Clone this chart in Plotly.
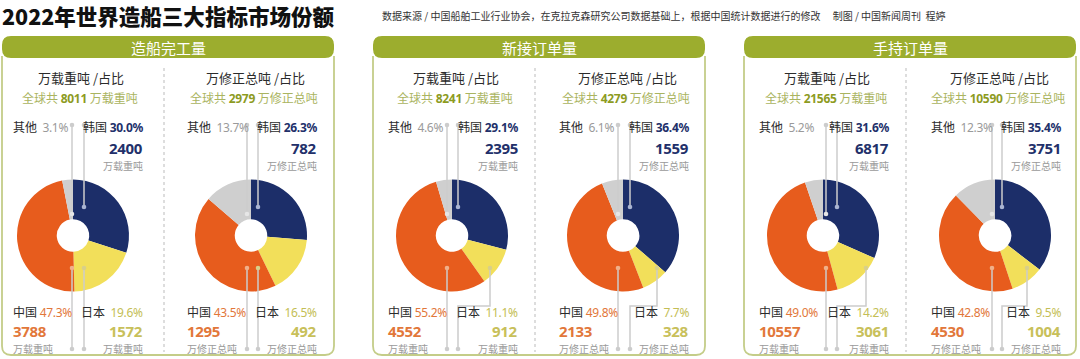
import plotly.graph_objects as go

# ---------------- data ----------------
panel_titles = ["造船完工量", "新接订单量", "手持订单量"]
units = ["万载重吨", "万修正总吨"]
totals = [8011, 2979, 8241, 4279, 21565, 10590]
korea_pct = [30.0, 26.3, 29.1, 36.4, 31.6, 35.4]
japan_pct = [19.6, 16.5, 11.1, 7.7, 14.2, 9.5]
china_pct = [47.3, 43.5, 55.2, 49.8, 49.0, 42.8]
other_pct = [3.1, 13.7, 4.6, 6.1, 5.2, 12.3]
korea_val = [2400, 782, 2395, 1559, 6817, 3751]
japan_val = [1572, 492, 912, 328, 3061, 1004]
china_val = [3788, 1295, 4552, 2133, 10557, 4530]
countries = ["韩国", "日本", "中国", "其他"]

title = "2022年世界造船三大指标市场份额"
source = "数据来源 / 中国船舶工业行业协会，在克拉克森研究公司数据基础上，根据中国统计数据进行的修改　 制图 / 中国新闻周刊  程婷"

# ---------------- style / layout ----------------
W, H = 1080, 359
CJK = "Noto Sans CJK SC"
NUMFAM = "'Noto Sans', Roboto, 'Noto Sans CJK SC'"
NUMSTY = "font-family:'Noto Sans', Roboto, sans-serif;font-stretch:condensed;letter-spacing:-0.3px"
C_NAVY, C_YEL, C_ORG, C_GRY = "#1c2e69", "#f2df5a", "#e75c1d", "#cfcfcf"
C_GREEN = "#9cad2e"
C_BORDER = "#c4cd88"
C_LINE = "#cccccc"

panel_x0 = [2, 373, 744]
panel_w = 332
donut_cx = [73, 251, 452, 623, 823, 995]
label_dx = [4, 0, 0, 0, 0, 0]
cy, r = 235.5, 56
other_lx = [72, 247, 447, 618, 826, 992]
korea_lx = [84, 258, 458, 630, 837, 1002]
japan_dot = [84, 258, 490, 657, 866, 1027]

fig = go.Figure()
shapes, annos = [], []


def anno(x, y, text, size, color, anchor="left", family=CJK, weight="normal"):
    annos.append(dict(x=x, y=y, xref="x", yref="y", text=text, showarrow=False,
                      xanchor=anchor, yanchor="middle", borderpad=0,
                      font=dict(size=size, color=color, family=family, weight=weight)))


def num(text, color, bold=False):
    w = "font-weight:bold;" if bold else ""
    return f"<span style=\"color:{color};{w}{NUMSTY}\">{text}</span>"


def line(pts, color=C_LINE, width=1.5, dash="solid"):
    d = "M " + " L ".join(f"{x},{y}" for x, y in pts)
    shapes.append(dict(type="path", path=d, xref="x", yref="y",
                       line=dict(color=color, width=width, dash=dash), layer="above"))


def dot(x, y, color=C_LINE, rr=2.3):
    shapes.append(dict(type="circle", xref="x", yref="y", x0=x - rr, x1=x + rr,
                       y0=y - rr, y1=y + rr, fillcolor=color, line=dict(width=0), layer="above"))


# title + source
anno(1, 15, title, 21.5, "#111111", weight=900)
anno(381, 15, source, 10, "#333333")

# panels
for p, x0 in enumerate(panel_x0):
    x1 = x0 + panel_w
    rr = 9
    border = (f"M {x0},56 L {x0},{355 - rr} Q {x0},355 {x0 + rr},355 "
              f"L {x1 - rr},355 Q {x1},355 {x1},{355 - rr} L {x1},56")
    shapes.append(dict(type="path", path=border, xref="x", yref="y",
                       line=dict(color=C_BORDER, width=1.8), layer="below"))
    yt, yb, rb = 36, 58, 9
    bar = (f"M {x0 + rb},{yt} L {x1 - rb},{yt} Q {x1},{yt} {x1},{yt + rb} "
           f"L {x1},{yb - rb} Q {x1},{yb} {x1 - rb},{yb} L {x0 + rb},{yb} "
           f"Q {x0},{yb} {x0},{yb - rb} L {x0},{yt + rb} Q {x0},{yt} {x0 + rb},{yt} Z")
    shapes.append(dict(type="path", path=bar, xref="x", yref="y",
                       fillcolor=C_GREEN, line=dict(width=0), layer="below"))
    anno(x0 + panel_w / 2, 47.5, panel_titles[p], 15, "white", anchor="center")
    line([(x0 + 162, 68), (x0 + 162, 352)], color="#bbbbbb", width=1, dash="dot")

# donuts
for i in range(6):
    cx = donut_cx[i]
    lc = cx + label_dx[i]
    unit = units[i % 2]
    fig.add_trace(go.Pie(
        values=[korea_pct[i], japan_pct[i], china_pct[i], other_pct[i]],
        labels=countries, sort=False, direction="clockwise", rotation=0,
        hole=0.29, textinfo="none", hoverinfo="skip", showlegend=False,
        marker=dict(colors=[C_NAVY, C_YEL, C_ORG, C_GRY], line=dict(width=0)),
        domain=dict(x=[(cx - r) / W, (cx + r) / W], y=[1 - (cy + r) / H, 1 - (cy - r) / H]),
    ))

    # headings
    anno(lc + 4, 77, f"{unit} /占比", 13, "#2b2b2b", anchor="center")
    anno(lc + 3, 98,
         f"全球共 {num(totals[i], '#8d9b1f', bold=True)} {unit}", 12, "#aab460", anchor="center")

    # top labels
    anno(lc - 65, 127, f"其他\u00a0 {num(f'{other_pct[i]:.1f}%', '#9a9a9a')}", 12, "#2b2b2b")
    anno(lc + 67, 127, f"韩国 {num(f'{korea_pct[i]:.1f}%', '#22306a', bold=True)}",
         12, "#2b2b2b", anchor="right")
    anno(lc + 67, 148, num(korea_val[i], "#22306a", bold=True), 15, "#22306a", anchor="right", family=NUMFAM)
    anno(lc + 67, 165.5, unit, 10, "#9a9a9a", anchor="right")

    # bottom labels
    anno(lc - 65, 312, f"中国 {num(f'{china_pct[i]:.1f}%', '#e2773a')}", 12, "#2b2b2b")
    anno(lc + 67, 312, f"日本\u00a0 {num(f'{japan_pct[i]:.1f}%', '#c4be55')}",
         12, "#2b2b2b", anchor="right")
    anno(lc - 65, 331, num(china_val[i], "#e2773a", bold=True), 15, "#e2773a", family=NUMFAM)
    anno(lc - 65, 348, unit, 10, "#9a9a9a")
    anno(lc + 67, 331, num(japan_val[i], "#c8c05a", bold=True), 15, "#c8c05a", anchor="right", family=NUMFAM)
    anno(lc + 67, 348, unit, 10, "#9a9a9a", anchor="right")

    # leader lines
    ox, kx, jx = other_lx[i], korea_lx[i], japan_dot[i]
    line([(ox, 125), (ox, 214)])
    dot(ox, 125)
    dot(ox, 214, "#e6e6e6")
    line([(kx, 125), (kx, 207)])
    dot(kx, 125)
    dot(kx, 207, "#a9b4d2")
    line([(ox, 268), (ox, 349)])
    dot(ox, 268, "#f0b08a")
    dot(ox, 349)
    if abs(jx - kx) < 2:
        line([(kx, 268), (kx, 349)])
    else:
        line([(jx, 268), (jx, 306), (kx, 306), (kx, 349)])
    dot(jx, 268, "#d8cf8a")
    dot(kx, 349)

fig.update_layout(
    width=W, height=H, margin=dict(l=0, r=0, t=0, b=0),
    paper_bgcolor="white", plot_bgcolor="white",
    xaxis=dict(range=[0, W], visible=False, fixedrange=True),
    yaxis=dict(range=[H, 0], visible=False, fixedrange=True),
    shapes=shapes, annotations=annos,
)
fig.write_html("out.html", config={"displayModeBar": False},
               post_script="document.body.style.margin='0';document.body.style.overflow='hidden';")
